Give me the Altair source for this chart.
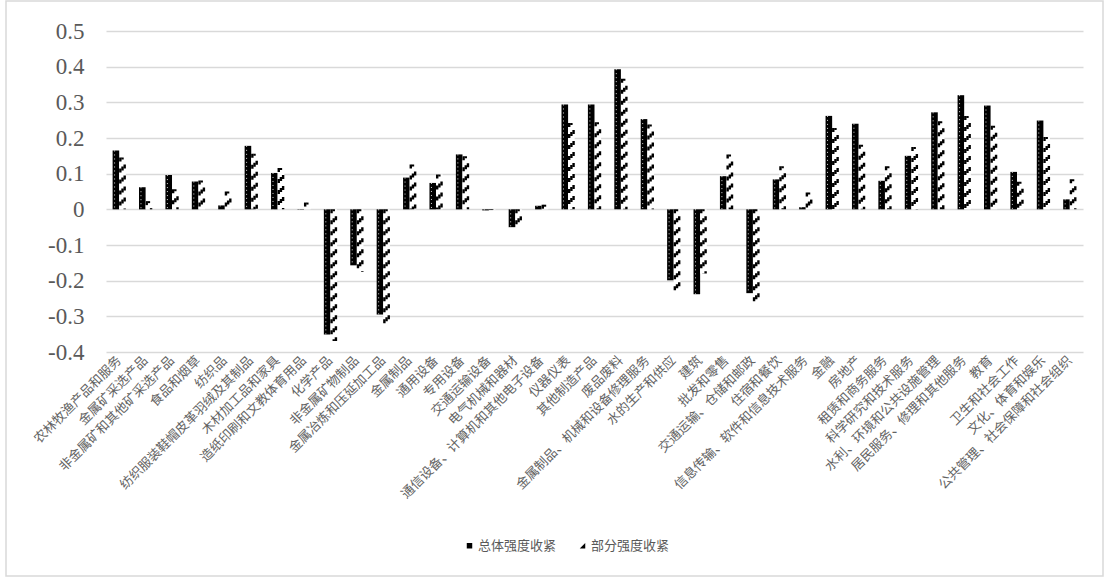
import altair as alt
import pandas as pd

categories = [
    "农林牧渔产品和服务", "金属矿采选产品", "非金属矿和其他矿采选产品", "食品和烟草", "纺织品",
    "纺织服装鞋帽皮革羽绒及其制品", "木材加工品和家具", "造纸印刷和文教体育用品", "化学产品",
    "非金属矿物制品", "金属冶炼和压延加工品", "金属制品", "通用设备", "专用设备", "交通运输设备",
    "电气机械和器材", "通信设备、计算机和其他电子设备", "仪器仪表", "其他制造产品", "废品废料",
    "金属制品、机械和设备修理服务", "水的生产和供应", "建筑", "批发和零售", "交通运输、仓储和邮政",
    "住宿和餐饮", "信息传输、软件和信息技术服务", "金融", "房地产", "租赁和商务服务",
    "科学研究和技术服务", "水利、环境和公共设施管理", "居民服务、修理和其他服务", "教育",
    "卫生和社会工作", "文化、体育和娱乐", "公共管理、社会保障和社会组织",
]
overall = [
    0.165, 0.062, 0.096, 0.078, 0.011, 0.178, 0.102, 0.001, -0.351, -0.157, -0.295,
    0.089, 0.074, 0.154, -0.003, -0.050, 0.010, 0.294, 0.294, 0.393, 0.253, -0.199,
    -0.238, 0.093, -0.235, 0.084, 0.006, 0.262, 0.240, 0.080, 0.150, 0.272, 0.320,
    0.291, 0.105, 0.249, 0.028,
]
partial = [
    0.145, 0.023, 0.056, 0.081, 0.050, 0.156, 0.116, 0.019, -0.369, -0.176, -0.328,
    0.126, 0.098, 0.149, -0.002, -0.042, 0.013, 0.242, 0.244, 0.366, 0.238, -0.233,
    -0.180, 0.154, -0.266, 0.121, 0.047, 0.228, 0.181, 0.121, 0.175, 0.247, 0.262,
    0.234, 0.077, 0.203, 0.084,
]
series = ["总体强度收紧", "部分强度收紧"]
y_ticks = [-0.4, -0.3, -0.2, -0.1, 0, 0.1, 0.2, 0.3, 0.4, 0.5]

rows = []
for c, a, b in zip(categories, overall, partial):
    rows.append({"category": c, "series": series[0], "value": a})
    rows.append({"category": c, "series": series[1], "value": b})
df = pd.DataFrame(rows)

CJK = "Noto Sans CJK SC"
GRAY = "#595959"

x_axis = alt.Axis(labelAngle=-45, labelAlign="right", labelBaseline="middle",
                  labelFont=CJK, labelFontSize=13, labelColor="#636363", labelPadding=6,
                  labelLimit=400, ticks=False, domain=False, grid=False, labelOverlap=False)
x_scale = alt.Scale(paddingInner=0.5, paddingOuter=0.25)
y_axis = alt.Axis(values=y_ticks, format=".1~f", labelExpr="replace(datum.label, '−', '-')",
                  labelFont="Liberation Serif", labelFontSize=23, labelColor=GRAY,
                  labelPadding=22, ticks=False, domain=False, grid=True,
                  gridColor="#d9d9d9", gridWidth=1.5)
y_scale = alt.Scale(domain=[-0.4, 0.5], nice=False, zero=False)


def x_at(pos):
    return alt.X("category:N", sort=categories, title=None, scale=x_scale, axis=x_axis,
                 bandPosition=pos)


x_enc = alt.X("category:N", sort=categories, title=None, scale=x_scale, axis=x_axis)
xo_enc = alt.XOffset("series:N", sort=series,
                     scale=alt.Scale(domain=series, paddingInner=0, paddingOuter=0))
y_enc = alt.Y("value:Q", title=None, scale=y_scale, axis=y_axis)
y_hi = alt.Y("hi:Q", title=None, scale=y_scale, axis=y_axis)

leg = alt.Legend(orient="none", legendX=357, legendY=508, direction="horizontal", title=None,
                 labelFont=CJK, labelFontSize=13, labelColor=GRAY, symbolSize=30,
                 symbolOpacity=1, symbolStrokeWidth=0, columnPadding=19, labelOffset=2)

base = alt.Chart(df)

bars = base.mark_bar().encode(
    x=x_enc, xOffset=xo_enc, y=y_enc,
    color=alt.condition(alt.datum.series == series[0], alt.value("#000000"), alt.value("#ffffff")),
)

rng = base.transform_calculate(hi="max(datum.value, 0)", lo="min(datum.value, 0)")

dots = rng.transform_filter(alt.datum.series == series[0]).mark_rule(
    color="#ffffff", strokeWidth=1, strokeDash=[1, 3], opacity=0.85
).encode(x=x_at(0.15), y=y_hi, y2="lo:Q")

hatch_layers = []
for pos, off in [(0.585, 0), (0.75, 2), (0.915, 4)]:
    hatch_layers.append(
        rng.transform_filter(alt.datum.series == series[1]).mark_rule(
            color="#000000", strokeWidth=2.4, strokeDash=[4, 7], strokeDashOffset=off,
            strokeCap="butt"
        ).encode(x=x_at(pos), y=y_hi, y2="lo:Q")
    )

legend_pts = base.mark_point(filled=True, size=0).encode(
    x=x_enc, xOffset=xo_enc, y=y_enc,
    fill=alt.Fill("series:N", scale=alt.Scale(domain=series, range=["#000000", "#000000"]),
                  legend=leg),
    shape=alt.Shape("series:N",
                    scale=alt.Scale(domain=series, range=["square", "M1,-1L1,1L-1,1Z"]),
                    legend=leg),
)

frame = alt.Chart(alt.Data(values=[{"a": 1}])).mark_rect(
    filled=False, stroke="#d9d9d9", strokeWidth=1.5
).encode(x=alt.value(-100), x2=alt.value(997), y=alt.value(-30), y2=alt.value(545))

chart = alt.layer(frame, bars, dots, *hatch_layers, legend_pts).properties(
    width=977, height=321,
    padding={"left": 106, "top": 31, "right": 25, "bottom": 227},
    autosize=alt.AutoSizeParams(type="none"),
    background="white",
).configure_view(stroke=None)

chart.save("out.html", embed_options={"renderer": "svg", "actions": False})
